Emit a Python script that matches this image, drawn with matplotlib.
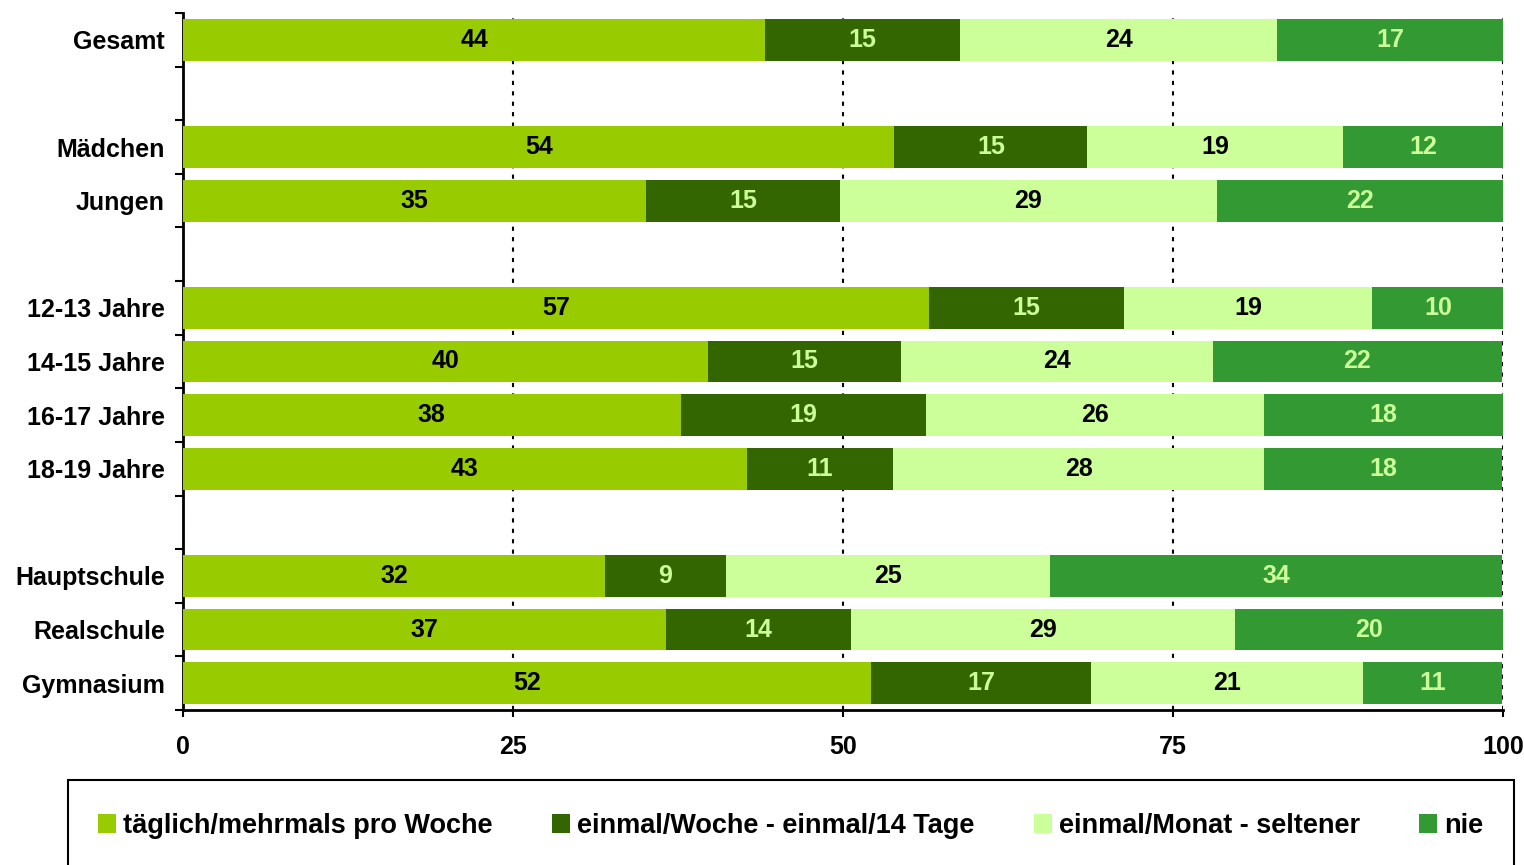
import matplotlib
matplotlib.use("Agg")
import matplotlib.pyplot as plt
from matplotlib.patches import Patch, Rectangle
import numpy as np

plt.rcParams["font.family"] = ["Liberation Sans", "DejaVu Sans"]
plt.rcParams["font.weight"] = "bold"

# rows from top to bottom, "" = empty spacer row
rows = ["Gesamt", "", "Mädchen", "Jungen", "",
        "12-13 Jahre", "14-15 Jahre", "16-17 Jahre", "18-19 Jahre", "",
        "Hauptschule", "Realschule", "Gymnasium"]

series = ["täglich/mehrmals pro Woche", "einmal/Woche - einmal/14 Tage",
          "einmal/Monat - seltener", "nie"]
colors = ["#99CC00", "#336600", "#CCFF99", "#339933"]
text_colors = ["black", "#CCFF99", "black", "#CCFF99"]

# shares per row (spacer rows = None)
taeglich = [44.1, None, 53.9, 35.1, None, 56.5, 39.8, 37.7, 42.7, None, 32.0, 36.6, 52.1]
woche    = [14.8, None, 14.6, 14.7, None, 14.8, 14.6, 18.6, 11.1, None,  9.1, 14.0, 16.7]
monat    = [24.0, None, 19.4, 28.5, None, 18.8, 23.6, 25.6, 28.1, None, 24.6, 29.1, 20.6]
nie      = [17.1, None, 12.1, 21.7, None, 10.0, 21.9, 18.1, 18.0, None, 34.2, 20.3, 10.5]

data = [taeglich, woche, monat, nie]

fig = plt.figure(figsize=(15.24, 8.65), dpi=100)
ax = fig.add_axes([0.1201, 0.1792, 0.8661, 0.8058])

y = np.arange(len(rows))
left = np.zeros(len(rows))
for vals, col, tcol in zip(data, colors, text_colors):
    v = np.array([0 if x is None else x for x in vals], dtype=float)
    ax.barh(y, v, left=left, height=0.78, color=col, zorder=3)
    for i, x in enumerate(vals):
        if x is None:
            continue
        ax.text(left[i] + x / 2, y[i], f"{int(x + 0.5)}", ha="center", va="center",
                fontsize=18, fontweight="bold", color=tcol, zorder=4)
    left += v

ax.set_xlim(0, 100)
ax.set_ylim(len(rows) - 0.5, -0.5)

# tick marks at row boundaries, labels at row centres
ax.set_yticks(np.arange(-0.5, len(rows)), minor=False)
ax.set_yticklabels([])
ax.set_yticks(y, minor=True)
ax.set_yticklabels(rows, minor=True, fontsize=18, fontweight="bold")
ax.tick_params(axis="y", which="major", length=6, width=1.5, direction="out")
ax.tick_params(axis="y", which="minor", length=0, pad=13)

ax.set_xticks([0, 25, 50, 75, 100])
ax.tick_params(axis="x", length=5, width=1.5, pad=13, labelsize=18)
for lab in ax.get_xticklabels():
    lab.set_fontweight("bold")

ax.xaxis.grid(True, linestyle=(0, (2, 3)), color="black", linewidth=1.5, zorder=0)
ax.set_axisbelow(True)

for s in ["top", "right"]:
    ax.spines[s].set_visible(False)
ax.spines["left"].set_linewidth(2)
ax.spines["bottom"].set_linewidth(2)

# legend frame running off the bottom edge
fig.patches.append(Rectangle((0.0446, -0.2), 0.9488, 0.2983, transform=fig.transFigure,
                             fill=False, edgecolor="black", linewidth=1.5))

handles = [Patch(facecolor=c, edgecolor="none") for c in colors]
fig.legend(handles, series, loc="center left", bbox_to_anchor=(0.0645, 0.045),
           ncol=4, frameon=False, borderpad=0, borderaxespad=0,
           handlelength=0.67, handleheight=0.67, handletextpad=0.26,
           columnspacing=2.18, prop={"size": 19.5, "weight": "bold"})

fig.savefig("out.png", dpi=100)
